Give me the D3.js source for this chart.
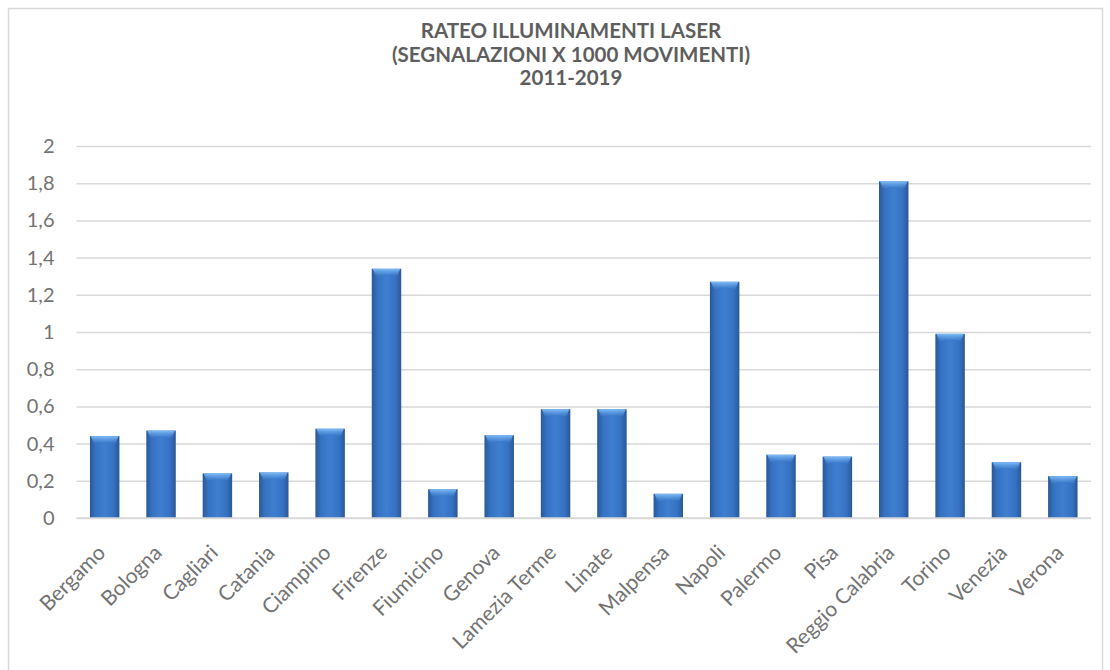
<!DOCTYPE html>
<html>
<head>
<meta charset="utf-8">
<script src="https://cdn.jsdelivr.net/npm/d3@7/dist/d3.min.js"></script>
<style>
  html, body { margin: 0; padding: 0; background: #ffffff; }
  svg { display: block; }
</style>
</head>
<body>
<svg id="chart" width="1110" height="670"></svg>
<script>
// Airports and laser-illumination reports per 1000 movements
const airports = ["Bergamo", "Bologna", "Cagliari", "Catania", "Ciampino", "Firenze", "Fiumicino",
  "Genova", "Lamezia Terme", "Linate", "Malpensa", "Napoli", "Palermo", "Pisa",
  "Reggio Calabria", "Torino", "Venezia", "Verona"];
const rates = [0.44, 0.47, 0.24, 0.245, 0.48, 1.34, 0.155,
  0.445, 0.585, 0.585, 0.13, 1.27, 0.34, 0.33,
  1.81, 0.99, 0.30, 0.225];
const yTicks = [0, 0.2, 0.4, 0.6, 0.8, 1, 1.2, 1.4, 1.6, 1.8, 2];
const titleLines = ["RATEO ILLUMINAMENTI LASER", "(SEGNALAZIONI X 1000 MOVIMENTI)", "2011-2019"];

const svg = d3.select("#chart");
const font = "Lato, 'Open Sans', sans-serif";
const textGray = "#737373";

// chart frame
svg.append("rect")
  .attr("x", 8.5).attr("y", 8.5)
  .attr("width", 1094).attr("height", 700)
  .attr("fill", "none").attr("stroke", "#d9d9d9").attr("stroke-width", 1.5);

const plot = { left: 76.5, right: 1091, top: 146, bottom: 518 };

const x = d3.scaleBand()
  .domain(airports)
  .range([plot.left, plot.right])
  .paddingInner(0.477)
  .paddingOuter(0.2385);

const y = d3.scaleLinear()
  .domain([0, 2])
  .range([plot.bottom, plot.top]);

// gradients for the bar fill
const defs = svg.append("defs");
const bodyGrad = defs.append("linearGradient")
  .attr("id", "barBody").attr("x1", "0%").attr("x2", "100%").attr("y1", "0%").attr("y2", "0%");
bodyGrad.append("stop").attr("offset", "0%").attr("stop-color", "#2a5898");
bodyGrad.append("stop").attr("offset", "20%").attr("stop-color", "#3672c2");
bodyGrad.append("stop").attr("offset", "50%").attr("stop-color", "#3f7ed0");
bodyGrad.append("stop").attr("offset", "80%").attr("stop-color", "#3672c2");
bodyGrad.append("stop").attr("offset", "100%").attr("stop-color", "#2a5898");

const capGrad = defs.append("linearGradient")
  .attr("id", "barCap").attr("x1", "0%").attr("x2", "0%").attr("y1", "0%").attr("y2", "100%");
capGrad.append("stop").attr("offset", "0%").attr("stop-color", "#80bdf6").attr("stop-opacity", 1);
capGrad.append("stop").attr("offset", "100%").attr("stop-color", "#5a9ae4").attr("stop-opacity", 0);

// horizontal gridlines
const yAxis = d3.axisLeft(y)
  .tickValues(yTicks)
  .tickSize(-(plot.right - plot.left))
  .tickPadding(22)
  .tickFormat(d => String(d).replace(".", ","));

const gy = svg.append("g")
  .attr("transform", `translate(${plot.left},0)`)
  .call(yAxis);
gy.select(".domain").remove();
gy.selectAll(".tick line")
  .attr("stroke", "#d9d9d9").attr("stroke-width", 1.5);
gy.selectAll(".tick text")
  .attr("fill", textGray)
  .style("font-family", font)
  .style("font-size", "20px");

// bars
const bars = svg.append("g").selectAll("g.bar")
  .data(airports.map((a, i) => ({ name: a, value: rates[i] })))
  .join("g").attr("class", "bar");

bars.append("rect")
  .attr("x", d => x(d.name))
  .attr("y", d => y(d.value))
  .attr("width", x.bandwidth())
  .attr("height", d => y(0) - y(d.value))
  .attr("fill", "url(#barBody)");

bars.append("path")
  .attr("d", d => {
    const x0 = x(d.name), w = x.bandwidth(), t = y(d.value);
    return `M${x0 + 1},${t} L${x0 + w - 1},${t} L${x0 + w - 4},${t + 8} Q${x0 + w / 2},${t + 3} ${x0 + 4},${t + 8} Z`;
  })
  .attr("fill", "url(#barCap)");

// category axis
const gx = svg.append("g")
  .attr("transform", `translate(0,${plot.bottom})`)
  .call(d3.axisBottom(x).tickSize(0).tickPadding(0));
gx.select(".domain")
  .attr("d", `M${plot.left},0H${plot.right}`)
  .attr("stroke", "#d9d9d9").attr("stroke-width", 1.5);
gx.selectAll(".tick text")
  .attr("fill", textGray)
  .style("font-family", font)
  .style("font-size", "21px")
  .attr("text-anchor", "end")
  .attr("y", 0)
  .attr("dy", 0)
  .attr("transform", "translate(2,36) rotate(-45)");

// title
svg.append("g").selectAll("text")
  .data(titleLines)
  .join("text")
  .attr("x", 571)
  .attr("y", (d, i) => 38 + i * 23.5)
  .attr("text-anchor", "middle")
  .attr("fill", "#5e5e5e")
  .style("font-family", font)
  .style("font-weight", "bold")
  .style("font-size", "20.5px")
  .text(d => d);
</script>
</body>
</html>
